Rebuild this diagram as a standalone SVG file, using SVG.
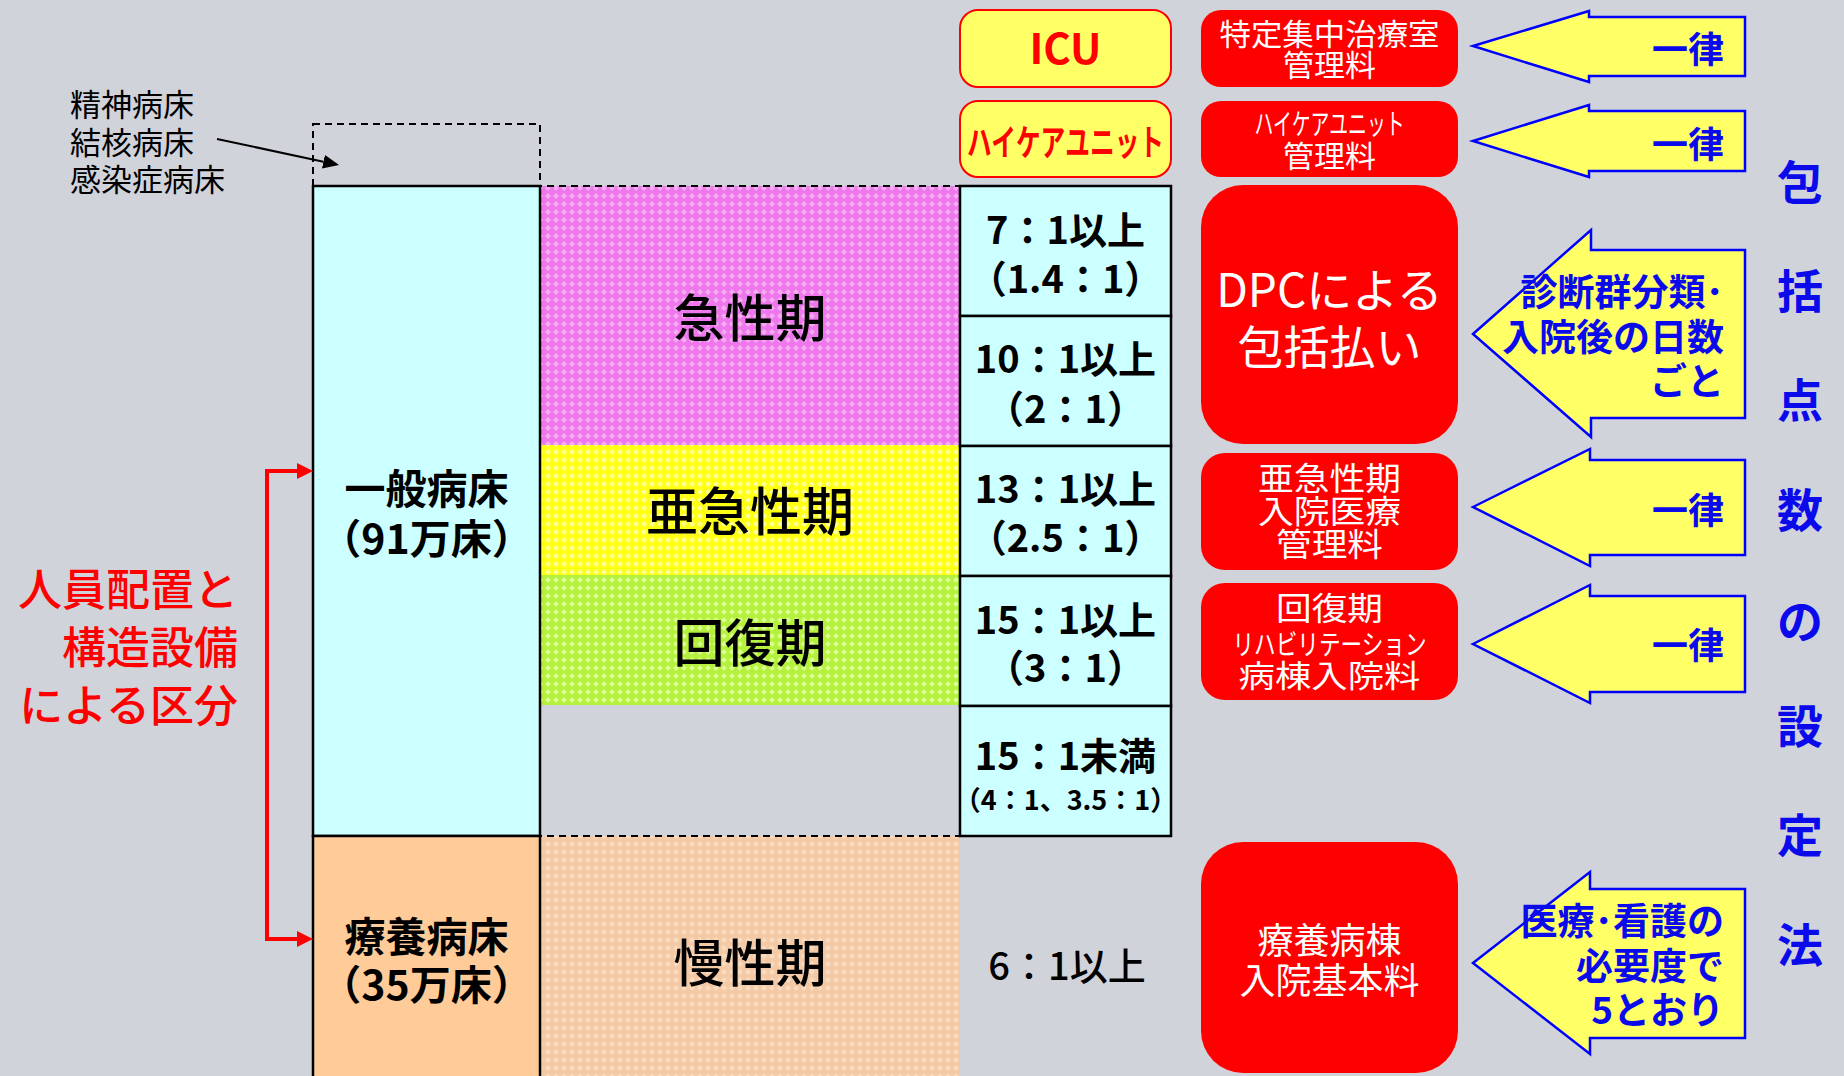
<svg xmlns="http://www.w3.org/2000/svg" width="1844" height="1076" viewBox="0 0 1844 1076">
<style>
text { font-family: "Noto Sans CJK JP", "Noto Sans", sans-serif; }
.b { font-weight: 700; }
.m { font-weight: 500; }
.r { font-weight: 400; }
.c { text-anchor: middle; }
.e { text-anchor: end; }
.cell { fill: #CCFFFF; stroke: #000; stroke-width: 2.5; }
.redbox { fill: #FF0000; }
.ybox { fill: #FFFF66; stroke: #FF0000; stroke-width: 2; }
.barrow { fill: #FFFF66; stroke: #0000FF; stroke-width: 2.5; stroke-linejoin: miter; }
.wt { fill: #FFFFFF; }
.bt { fill: #0A0AEB; }
.rt { fill: #FF0000; }
.kt { fill: #000; }
.dash { fill: none; stroke: #000; stroke-width: 2; stroke-dasharray: 7 5; }
</style>
<defs>
<pattern id="pPink" width="8" height="8" patternUnits="userSpaceOnUse">
<rect width="8" height="8" fill="#EE77EE"/>
<path d="M4,1 L7,4 L4,7 L1,4 Z" fill="#F5ACEE"/>
</pattern>
<pattern id="pYellow" width="8" height="8" patternUnits="userSpaceOnUse">
<rect width="8" height="8" fill="#FFFF10"/>
<path d="M4,1 L7,4 L4,7 L1,4 Z" fill="#FFFF99"/>
</pattern>
<pattern id="pGreen" width="8" height="8" patternUnits="userSpaceOnUse">
<rect width="8" height="8" fill="#B4F03C"/>
<path d="M4,1 L7,4 L4,7 L1,4 Z" fill="#D8FF8C"/>
</pattern>
<pattern id="pPeach" width="8" height="8" patternUnits="userSpaceOnUse">
<rect width="8" height="8" fill="#F3C9A6"/>
<path d="M4,1 L7,4 L4,7 L1,4 Z" fill="#F9DBC0"/>
</pattern>
<marker id="mBlack" markerUnits="userSpaceOnUse" markerWidth="16" markerHeight="14" viewBox="0 0 16 14" refX="0" refY="7" orient="auto">
<path d="M0,0 L16,7 L0,14 Z" fill="#000"/>
</marker>
<marker id="mRed" markerUnits="userSpaceOnUse" markerWidth="16" markerHeight="16" viewBox="0 0 16 16" refX="3" refY="8" orient="auto-start-reverse">
<path d="M0,0 L16,8 L0,16 Z" fill="#FF0000"/>
</marker>
</defs>

<rect x="0" y="0" width="1844" height="1076" fill="#D1D3DB"/>

<!-- phase regions -->
<g id="acute">
<rect x="540" y="186" width="420" height="259" fill="url(#pPink)"/>
<text class="m kt c" x="750" y="337" font-size="51">急性期</text>
</g>
<g id="subacute">
<rect x="540" y="445" width="420" height="130" fill="url(#pYellow)"/>
<text class="m kt c" x="750" y="531" font-size="52">亜急性期</text>
</g>
<g id="recovery">
<rect x="540" y="575" width="420" height="130" fill="url(#pGreen)"/>
<text class="m kt c" x="750" y="662" font-size="51">回復期</text>
</g>
<g id="chronic">
<rect x="540" y="836" width="420" height="240" fill="url(#pPeach)"/>
<text class="m kt c" x="750" y="982" font-size="51">慢性期</text>
</g>

<!-- bed types -->
<g id="other-beds">
<rect class="dash" x="313" y="124" width="227" height="62"/>
<text class="r kt" x="70" y="116" font-size="31">精神病床</text>
<text class="r kt" x="70" y="153.5" font-size="31">結核病床</text>
<text class="r kt" x="70" y="191" font-size="31">感染症病床</text>
</g>
<g id="general-beds">
<rect x="313" y="186" width="227" height="650" fill="#CCFFFF" stroke="#000" stroke-width="2.5"/>
<text class="b kt c" x="426.5" y="504" font-size="41">一般病床</text>
<text class="b kt c" x="426.5" y="554" font-size="41">（91万床）</text>
</g>
<g id="ltc-beds">
<rect x="313" y="836" width="227" height="250" fill="#FFCC99" stroke="#000" stroke-width="2.5"/>
<text class="b kt c" x="426.5" y="951.5" font-size="41">療養病床</text>
<text class="b kt c" x="426.5" y="1000" font-size="41">（35万床）</text>
</g>
<g id="division-label">
<text class="m rt e" x="238" y="606" font-size="44">人員配置と</text>
<text class="m rt e" x="238" y="664" font-size="44">構造設備</text>
<text class="m rt e" x="238" y="722" font-size="44">による区分</text>
</g>

<!-- staffing ratios -->
<g id="ratio-7">
<rect class="cell" x="960" y="186" width="211" height="130"/>
<text class="b kt c" x="1065.5" y="244" font-size="38">7：1以上</text>
<text class="b kt c" x="1065.5" y="293" font-size="38">（1.4：1）</text>
</g>
<g id="ratio-10">
<rect class="cell" x="960" y="316" width="211" height="130"/>
<text class="b kt c" x="1065.5" y="373" font-size="38">10：1以上</text>
<text class="b kt c" x="1065.5" y="423" font-size="38">（2：1）</text>
</g>
<g id="ratio-13">
<rect class="cell" x="960" y="446" width="211" height="130"/>
<text class="b kt c" x="1065.5" y="503" font-size="38">13：1以上</text>
<text class="b kt c" x="1065.5" y="552" font-size="38">（2.5：1）</text>
</g>
<g id="ratio-15">
<rect class="cell" x="960" y="576" width="211" height="130"/>
<text class="b kt c" x="1065.5" y="634" font-size="38">15：1以上</text>
<text class="b kt c" x="1065.5" y="682" font-size="38">（3：1）</text>
</g>
<g id="ratio-15u">
<rect class="cell" x="960" y="706" width="211" height="130"/>
<text class="b kt c" x="1065.5" y="770" font-size="38">15：1未満</text>
<text class="b kt c" x="1065.5" y="810" font-size="27">（4：1、3.5：1）</text>
</g>
<g id="ratio-6">
<text class="m kt c" x="1067" y="980" font-size="38">6：1以上</text>
</g>

<!-- units -->
<g id="icu">
<rect class="ybox" x="960" y="10" width="211" height="77" rx="18"/>
<text class="b rt c" x="1065.5" y="64" font-size="42">ICU</text>
</g>
<g id="hcu">
<rect class="ybox" x="960" y="101" width="211" height="76" rx="18"/>
<text class="b rt c" x="1065.5" y="156" font-size="36" textLength="197" lengthAdjust="spacingAndGlyphs">ハイケアユニット</text>
</g>

<!-- fee boxes -->
<g id="fee-icu">
<rect class="redbox" x="1201" y="10" width="257" height="77" rx="20"/>
<text class="r wt c" x="1329.5" y="44.5" font-size="30" textLength="220" lengthAdjust="spacingAndGlyphs">特定集中治療室</text>
<text class="r wt c" x="1329.5" y="76" font-size="30" textLength="93" lengthAdjust="spacingAndGlyphs">管理料</text>
</g>
<g id="fee-hcu">
<rect class="redbox" x="1201" y="101" width="257" height="76" rx="20"/>
<text class="r wt c" x="1329.5" y="135" font-size="29" textLength="150" lengthAdjust="spacingAndGlyphs">ハイケアユニット</text>
<text class="r wt c" x="1329.5" y="167" font-size="30" textLength="93" lengthAdjust="spacingAndGlyphs">管理料</text>
</g>
<g id="fee-dpc">
<rect class="redbox" x="1201" y="185" width="257" height="259" rx="42"/>
<text class="r wt c" x="1329.5" y="307" font-size="46">DPCによる</text>
<text class="r wt c" x="1329.5" y="364" font-size="46">包括払い</text>
</g>
<g id="fee-subacute">
<rect class="redbox" x="1201" y="453" width="257" height="117" rx="24"/>
<text class="r wt c" x="1329.5" y="490" font-size="32" textLength="143" lengthAdjust="spacingAndGlyphs">亜急性期</text>
<text class="r wt c" x="1329.5" y="523" font-size="32" textLength="143" lengthAdjust="spacingAndGlyphs">入院医療</text>
<text class="r wt c" x="1329.5" y="556" font-size="32" textLength="107" lengthAdjust="spacingAndGlyphs">管理料</text>
</g>
<g id="fee-recovery">
<rect class="redbox" x="1201" y="583" width="257" height="117" rx="24"/>
<text class="r wt c" x="1329.5" y="620" font-size="32" textLength="107" lengthAdjust="spacingAndGlyphs">回復期</text>
<text class="r wt c" x="1329.5" y="655" font-size="28" textLength="194" lengthAdjust="spacingAndGlyphs">リハビリテーション</text>
<text class="r wt c" x="1329.5" y="687" font-size="31" textLength="182" lengthAdjust="spacingAndGlyphs">病棟入院料</text>
</g>
<g id="fee-ltc">
<rect class="redbox" x="1201" y="842" width="257" height="231" rx="42"/>
<text class="r wt c" x="1329.5" y="954" font-size="36">療養病棟</text>
<text class="r wt c" x="1329.5" y="994" font-size="36">入院基本料</text>
</g>

<!-- method arrows -->
<g id="method-icu">
<polygon class="barrow" points="1473,46 1589,11 1589,17 1745,17 1745,76 1589,76 1589,82"/>
<text class="b bt e" x="1724" y="63" font-size="36">一律</text>
</g>
<g id="method-hcu">
<polygon class="barrow" points="1473,141 1589,105 1589,111 1745,111 1745,171 1589,171 1589,177"/>
<text class="b bt e" x="1724" y="158" font-size="36">一律</text>
</g>
<g id="method-dpc">
<polygon class="barrow" points="1473,334 1591,230 1591,250 1745,250 1745,418 1591,418 1591,437"/>
<text class="b bt e" x="1724" y="306" font-size="37">診断群分類･</text>
<text class="b bt e" x="1724" y="351" font-size="37">入院後の日数</text>
<text class="b bt e" x="1724" y="395" font-size="37">ごと</text>
</g>
<g id="method-subacute">
<polygon class="barrow" points="1473,507 1590,449 1590,460 1745,460 1745,555 1590,555 1590,566"/>
<text class="b bt e" x="1724" y="524" font-size="36">一律</text>
</g>
<g id="method-recovery">
<polygon class="barrow" points="1473,644 1590,585 1590,596 1745,596 1745,692 1590,692 1590,703"/>
<text class="b bt e" x="1724" y="659" font-size="36">一律</text>
</g>
<g id="method-ltc">
<polygon class="barrow" points="1473,963 1590,872 1590,889 1745,889 1745,1038 1590,1038 1590,1054"/>
<text class="b bt e" x="1724" y="935" font-size="37">医療･看護の</text>
<text class="b bt e" x="1724" y="980" font-size="37">必要度で</text>
<text class="b bt e" x="1724" y="1024" font-size="37">5とおり</text>
</g>

<g id="title-vertical">
<text class="b bt c" x="1800" y="199" font-size="46">包</text>
<text class="b bt c" x="1800" y="308" font-size="46">括</text>
<text class="b bt c" x="1800" y="417" font-size="46">点</text>
<text class="b bt c" x="1800" y="527" font-size="46">数</text>
<text class="b bt c" x="1800" y="638" font-size="46">の</text>
<text class="b bt c" x="1800" y="743" font-size="46">設</text>
<text class="b bt c" x="1800" y="852" font-size="46">定</text>
<text class="b bt c" x="1800" y="962" font-size="46">法</text>
</g>

<!-- connectors -->
<g id="connectors">
<line x1="475" y1="186" x2="960" y2="186" class="dash"/>
<line x1="475" y1="836" x2="960" y2="836" class="dash"/>
<line x1="217" y1="139" x2="323.4" y2="161.7" stroke="#000" stroke-width="2" marker-end="url(#mBlack)"/>
<path d="M300,939 H267 V471 H300" fill="none" stroke="#FF0000" stroke-width="4" marker-start="url(#mRed)" marker-end="url(#mRed)"/>
</g>
</svg>
